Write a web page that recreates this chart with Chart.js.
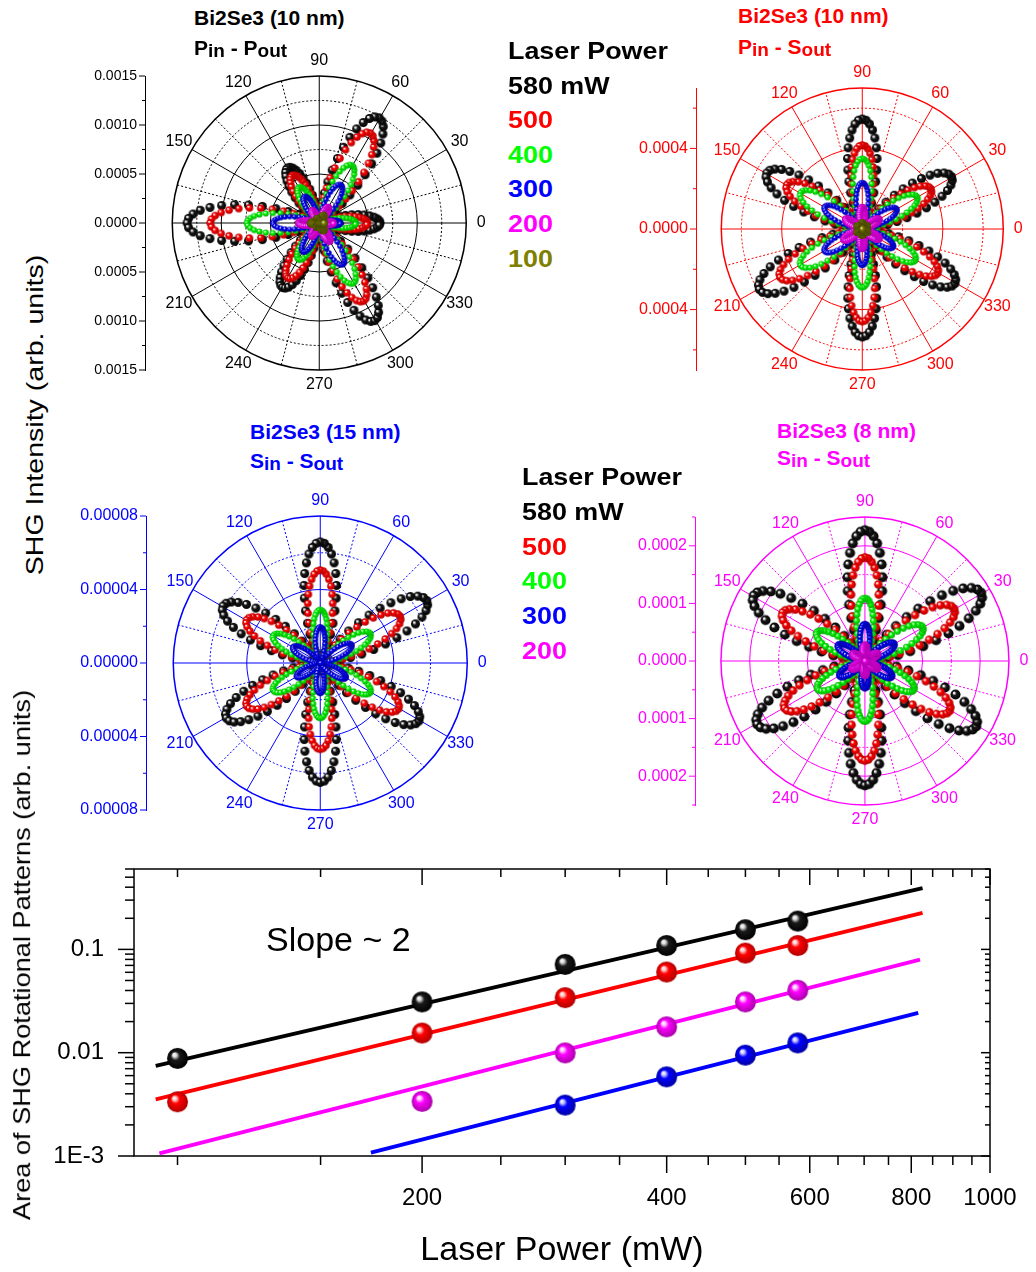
<!DOCTYPE html>
<html>
<head>
<meta charset="utf-8">
<title>SHG rotational patterns vs laser power</title>
<script src="https://cdn.jsdelivr.net/npm/chart.js@4.4.1/dist/chart.umd.min.js"></script>
<style>
  body { margin: 0; background: #fff; }
  #fig { position: relative; width: 1036px; height: 1272px; overflow: hidden; background: #fff;
         font-family: Arial, "Liberation Sans", Helvetica, sans-serif; }
  #fig canvas { position: absolute; }
  .t { position: absolute; white-space: nowrap; line-height: 1; font-weight: bold; font-size: 21px; }
  .t .s { font-size: 19px; position: relative; top: 2px; }
  .lg { position: absolute; white-space: nowrap; line-height: 1; font-weight: bold; font-size: 24px;
        transform: scaleX(1.12); transform-origin: 0 50%; }
  .yt { position: absolute; white-space: nowrap; line-height: 1; font-size: 24px; transform-origin: 50% 50%; }
  .note { position: absolute; white-space: nowrap; line-height: 1; font-size: 34px; }
</style>
</head>
<body>
<div id="fig">
  <canvas id="roseA"></canvas>
  <canvas id="roseB"></canvas>
  <canvas id="roseC"></canvas>
  <canvas id="roseD"></canvas>
  <canvas id="area"></canvas>

  <div class="t" style="left:194px;top:7px;color:#000">Bi2Se3 (10 nm)</div>
  <div class="t" style="left:194px;top:37px;color:#000">P<span class="s">in</span> - P<span class="s">out</span></div>
  <div class="t" style="left:738px;top:5px;color:#f00">Bi2Se3 (10 nm)</div>
  <div class="t" style="left:738px;top:36px;color:#f00">P<span class="s">in</span> - S<span class="s">out</span></div>
  <div class="t" style="left:250px;top:421px;color:#00f">Bi2Se3 (15 nm)</div>
  <div class="t" style="left:250px;top:450px;color:#00f">S<span class="s">in</span> - S<span class="s">out</span></div>
  <div class="t" style="left:777px;top:420px;color:#f0f">Bi2Se3 (8 nm)</div>
  <div class="t" style="left:777px;top:447px;color:#f0f">S<span class="s">in</span> - S<span class="s">out</span></div>

  <div class="yt" id="ytA">SHG Intensity (arb. units)</div>
  <div class="yt" id="ytB">Area of SHG Rotational Patterns (arb. units)</div>
  <div class="note" style="left:266px;top:922px">Slope ~ 2</div>
</div>
<script>
// ---- values ----

// normalised petal profile: fraction of a petal's peak at 0..30 deg from the petal axis
const lobeShape = [1, .997, .989, .976, .957, .933, .905, .872, .835, .794, .75, .703, .655, .604, .552,
  .5, .448, .396, .345, .297, .25, .206, .165, .128, .095, .067, .043, .024, .011, .003, 0];

// Bi2Se3 (10 nm), Pin - Pout : petal peaks per laser power
const pinPoutPowers = [580, 500, 400, 300, 200, 100];
const pinPoutAngles = [0, 60, 120, 180, 240, 300];
const pinPoutPeaks = [
  [0.00063, 0.00124, 0.00065, 0.00137, 0.00076, 0.00115],
  [0.00050, 0.00106, 0.00056, 0.00113, 0.00065, 0.00092],
  [0.00038, 0.00068, 0.00042, 0.00075, 0.00043, 0.00071],
  [0.00022, 0.00045, 0.00031, 0.00048, 0.00034, 0.00049],
  [0.00015, 0.00019, 0.00015, 0.00022, 0.00016, 0.00022],
  [0.00005, 0.00009, 0.00005, 0.00009, 0.00005, 0.00009],
];

// Bi2Se3 (10 nm), Pin - Sout
const pinSoutPowers = [580, 500, 400, 300, 200, 100];
const pinSoutAngles = [30, 90, 150, 210, 270, 330];
const pinSoutPeaks = [
  [0.00052, 0.000546, 0.000556, 0.00060, 0.000536, 0.00054],
  [0.00040, 0.000417, 0.00044, 0.00048, 0.00046, 0.00044],
  [0.00032, 0.00035, 0.00036, 0.00036, 0.00029, 0.00031],
  [0.00020, 0.00023, 0.00022, 0.00022, 0.00018, 0.00018],
  [0.00010, 0.00011, 0.00010, 0.00011, 0.00010, 0.00010],
  [0.00003, 0.00003, 0.00003, 0.00003, 0.00003, 0.00003],
];

// Bi2Se3 (15 nm), Sin - Sout
const sin15Powers = [580, 500, 400, 300];
const sin15Angles = [30, 90, 150, 210, 270, 330];
const sin15Peaks = [
  [0.000068, 0.0000659, 0.000062, 0.000060, 0.000065, 0.000063],
  [0.000051, 0.0000506, 0.000047, 0.000047, 0.000047, 0.000050],
  [0.000032, 0.000029, 0.000030, 0.000030, 0.000030, 0.000032],
  [0.000020, 0.0000196, 0.0000174, 0.000015, 0.0000165, 0.0000163],
];

// Bi2Se3 (8 nm), Sin - Sout
const sin8Powers = [580, 500, 400, 300, 200];
const sin8Angles = [30, 90, 150, 210, 270, 330];
const sin8Peaks = [
  [0.000237, 0.000227, 0.000227, 0.000220, 0.000216, 0.000227],
  [0.000182, 0.000180, 0.000168, 0.000164, 0.000173, 0.000173],
  [0.000118, 0.000109, 0.0000986, 0.000097, 0.000105, 0.000100],
  [0.000060, 0.000064, 0.000055, 0.000052, 0.000047, 0.000055],
  [0.000026, 0.000028, 0.000025, 0.000027, 0.000025, 0.000026],
];

// radial axis labels of the four roses
const pinPoutTicks = [-0.0015, -0.001, -0.0005, 0, 0.0005, 0.001, 0.0015];
const pinSoutTicks = [-0.0004, 0, 0.0004];
const sin15Ticks = [-0.00008, -0.00004, 0, 0.00004, 0.00008];
const sin8Ticks = [-0.0002, -0.0001, 0, 0.0001, 0.0002];
const angleLabels = [0, 30, 60, 90, 120, 150, 210, 240, 270, 300, 330];

// area of the rotational patterns vs laser power (mW)
const areaPinPoutX = [100, 200, 300, 400, 500, 580];
const areaPinPout = [0.0088, 0.031, 0.0716, 0.109, 0.155, 0.188];
const areaPinSoutX = [100, 200, 300, 400, 500, 580];
const areaPinSout = [0.00335, 0.0155, 0.0341, 0.0604, 0.0921, 0.109];
const areaSin8X = [200, 300, 400, 500, 580];
const areaSin8 = [0.00338, 0.00995, 0.0178, 0.031, 0.0402];
const areaSin15X = [300, 400, 500, 580];
const areaSin15 = [0.00311, 0.00584, 0.00946, 0.01244];

// fitted lines (end points)
const fitPinPoutX = [94, 826];
const fitPinPout = [0.00746, 0.391];
const fitPinSoutX = [94, 826];
const fitPinSout = [0.00353, 0.226];
const fitSin8X = [95, 820];
const fitSin8 = [0.00106, 0.0795];
const fitSin15X = [173, 816];
const fitSin15 = [0.00108, 0.0243];

const xTickLabels = [200, 400, 600, 800, 1000];
const xMinorTicks = [100, 150, 250, 300, 350, 450, 500, 550, 650, 700, 750, 850, 900, 950];
const yTickLabels = [0.001, 0.01, 0.1];

// ---- styling ----
Chart.defaults.font.family = 'Arial, "Liberation Sans", Helvetica, sans-serif';
Chart.defaults.color = '#000';

const shades = {
  black:   ['#e0e0e0', '#1a1a1a', '#000000'],
  red:     ['#ffd0d0', '#ff0000', '#b00000'],
  green:   ['#e0ffe0', '#00ff00', '#00a800'],
  blue:    ['#d0d0ff', '#0000ff', '#0000a0'],
  magenta: ['#ffd0ff', '#ff00ff', '#a800a8'],
  olive:   ['#e0e0a0', '#808000', '#4a4a00'],
};
const powerColor = { 580: 'black', 500: 'red', 400: 'green', 300: 'blue', 200: 'magenta', 100: 'olive' };
const textColor = { black: '#000', red: '#ff0000', green: '#00ff00', blue: '#0000ff', magenta: '#ff00ff', olive: '#808000' };
const dotSize = { 580: 4.5, 500: 3.8, 400: 3.1, 300: 2.8, 200: 3, 100: 3.5 };

// little shaded ball used as marker
function sphere(r, pal) {
  const c = document.createElement('canvas');
  const s = Math.ceil(2 * r + 2);
  c.width = c.height = s;
  const g = c.getContext('2d');
  const m = s / 2;
  const grad = g.createRadialGradient(m - r * 0.35, m - r * 0.4, 0, m, m, r);
  grad.addColorStop(0, '#ffffff');
  grad.addColorStop(0.18, pal[0]);
  grad.addColorStop(0.42, pal[1]);
  grad.addColorStop(1, pal[2]);
  g.fillStyle = grad;
  g.beginPath();
  g.arc(m, m, r, 0, Math.PI * 2);
  g.fill();
  return c;
}

// turn the petal peaks of one series into polar points (stored as x/y)
function rosePoints(peaks, petalAngles, step) {
  const pts = [];
  for (let t = 0; t < 360; t += step) {
    let k = 0, best = 999;
    petalAngles.forEach((a, i) => {
      const d = Math.abs(((t - a + 540) % 360) - 180);
      if (d < best) { best = d; k = i; }
    });
    const r = peaks[k] * lobeShape[Math.round(best)];
    const rad = t * Math.PI / 180;
    pts.push({ x: r * Math.cos(rad), y: r * Math.sin(rad) });
  }
  return pts;
}

function roseGrid(p) {
  return {
    id: 'roseGrid',
    beforeDatasetsDraw(chart) {
      const { ctx, chartArea, scales: { x, y } } = chart;
      const cx = x.getPixelForValue(0), cy = y.getPixelForValue(0);
      const R = cy - y.getPixelForValue(p.max);
      const k = R / p.max;
      const isMajor = v => Math.abs(v / p.major - Math.round(v / p.major)) < 1e-6;
      ctx.save();
      ctx.strokeStyle = p.color;
      ctx.lineWidth = 1;
      // circles
      const n = Math.floor(p.max / p.minor + 1e-6);
      for (let i = 1; i <= n; i++) {
        const v = i * p.minor;
        if (Math.abs(v - p.max) < 1e-12) continue;
        ctx.setLineDash(isMajor(v) ? [] : [2, 2]);
        ctx.beginPath();
        ctx.arc(cx, cy, v * k, 0, Math.PI * 2);
        ctx.stroke();
      }
      // spokes
      const r0 = p.major * k;
      for (let a = 0; a < 360; a += 15) {
        const rad = a * Math.PI / 180;
        const solid = a % 30 === 0;
        const rs = solid ? 0 : r0;
        ctx.setLineDash(solid ? [] : [2, 2]);
        ctx.beginPath();
        ctx.moveTo(cx + rs * Math.cos(rad), cy - rs * Math.sin(rad));
        ctx.lineTo(cx + R * Math.cos(rad), cy - R * Math.sin(rad));
        ctx.stroke();
      }
      ctx.setLineDash([]);
      ctx.lineWidth = 1.5;
      ctx.beginPath();
      ctx.arc(cx, cy, R, 0, Math.PI * 2);
      ctx.stroke();
      // angle labels
      ctx.fillStyle = p.color;
      ctx.font = '16px Arial, "Liberation Sans", sans-serif';
      ctx.textAlign = 'center';
      ctx.textBaseline = 'middle';
      angleLabels.forEach(a => {
        const rad = a * Math.PI / 180;
        ctx.fillText(String(a), cx + (R + 15) * Math.cos(rad), cy - (R + 15) * Math.sin(rad));
      });
      // ticks on the left radial axis
      ctx.lineWidth = 1;
      const ax = chartArea.left;
      for (let i = -n; i <= n; i++) {
        const py = y.getPixelForValue(i * p.minor);
        const len = isMajor(i * p.minor) ? 6 : 3;
        ctx.beginPath();
        ctx.moveTo(ax - len, py);
        ctx.lineTo(ax, py);
        ctx.stroke();
      }
      ctx.restore();
    }
  };
}

const panels = [
  { id: 'roseA', color: '#000000', axisX: 145, cx: 322, cy: 223, R: 147, max: 0.0015, major: 0.0005, minor: 0.00025,
    dec: 4, tickFont: 14, step: 2, dot: 1, powers: pinPoutPowers, angles: pinPoutAngles, peaks: pinPoutPeaks, ticks: pinPoutTicks },
  { id: 'roseB', color: '#ff0000', axisX: 696, cx: 865, cy: 229, R: 141, max: 0.0007, major: 0.0004, minor: 0.0002,
    dec: 4, tickFont: 16, step: 2, dot: 1, powers: pinSoutPowers, angles: pinSoutAngles, peaks: pinSoutPeaks, ticks: pinSoutTicks },
  { id: 'roseC', color: '#0000ff', axisX: 146, cx: 323, cy: 663, R: 147, max: 0.00008, major: 0.00004, minor: 0.00002,
    dec: 5, tickFont: 16, step: 2, dot: 1, powers: sin15Powers, angles: sin15Angles, peaks: sin15Peaks, ticks: sin15Ticks },
  { id: 'roseD', color: '#ff00ff', axisX: 695, cx: 868, cy: 661, R: 144, max: 0.00025, major: 0.0001, minor: 0.00005,
    dec: 4, tickFont: 16, step: 2, dot: 1.12, powers: sin8Powers, angles: sin8Angles, peaks: sin8Peaks, ticks: sin8Ticks },
];

panels.forEach(p => {
  const el = document.getElementById(p.id);
  const left = p.axisX - 90, top = p.cy - p.R - 30;
  const right = Math.min(1036, p.cx + p.R + 30);
  el.width = right - left;
  el.height = 2 * p.R + 60;
  el.style.left = left + 'px';
  el.style.top = top + 'px';
  const unit = p.max / p.R;
  const n = p.powers.length;

  const datasets = p.powers.map((pw, i) => ({
    label: pw + ' mW',
    data: rosePoints(p.peaks[i], p.angles, p.step),
    pointStyle: sphere(dotSize[pw] * p.dot, shades[powerColor[pw]]),
    pointRadius: dotSize[pw] * p.dot,
    order: n - i,
  }));

  new Chart(el, {
    type: 'scatter',
    data: { datasets },
    options: {
      responsive: false,
      animation: false,
      events: [],
      layout: { padding: { left: 0, right: 0, top: 30, bottom: 30 } },
      plugins: { legend: { display: false }, tooltip: { enabled: false } },
      scales: {
        x: { type: 'linear', display: false, min: -(p.cx - p.axisX) * unit, max: (right - p.cx) * unit },
        y: {
          type: 'linear', min: -p.max, max: p.max,
          afterFit: s => { s.width = 90; s.paddingTop = 0; s.paddingBottom = 0; },
          afterBuildTicks: s => { s.ticks = p.ticks.map(v => ({ value: v })); },
          ticks: { color: p.color, font: { size: p.tickFont }, padding: 8,
                   callback: v => Math.abs(v).toFixed(p.dec) },
          grid: { display: false, drawTicks: false },
          border: { display: true, color: p.color, width: 1 },
        },
      },
    },
    plugins: [roseGrid(p)],
  });
});

// legends
function legend(powers, left, top, gap) {
  const fig = document.getElementById('fig');
  const lines = ['Laser Power'].concat(powers.map((pw, i) => i === 0 ? pw + ' mW' : String(pw)));
  lines.forEach((txt, i) => {
    const d = document.createElement('div');
    d.className = 'lg';
    d.textContent = txt;
    d.style.left = left + 'px';
    d.style.top = (top + i * gap) + 'px';
    d.style.color = i < 2 ? '#000' : textColor[powerColor[powers[i - 1]]];
    fig.appendChild(d);
  });
}
legend(pinPoutPowers, 508, 39, 34.6);
legend(sin8Powers, 522, 465, 34.8);

// rotated axis titles
function placeRotated(id, cx, cy, len) {
  const el = document.getElementById(id);
  const w = el.offsetWidth, h = el.offsetHeight;
  el.style.left = (cx - w / 2) + 'px';
  el.style.top = (cy - h / 2) + 'px';
  el.style.transform = `rotate(-90deg) scaleX(${len / w})`;
}
placeRotated('ytA', 34, 415, 320);
placeRotated('ytB', 22, 955, 530);

// ---- area vs power (log-log) ----
const frame = {
  id: 'frame',
  beforeDatasetsDraw(chart) {
    const { ctx, chartArea: a, scales: { x, y } } = chart;
    ctx.save();
    ctx.strokeStyle = '#000';
    ctx.lineWidth = 1.5;
    ctx.strokeRect(a.left, a.top, a.right - a.left, a.bottom - a.top);
    const tick = (x1, y1, x2, y2) => { ctx.beginPath(); ctx.moveTo(x1, y1); ctx.lineTo(x2, y2); ctx.stroke(); };
    xTickLabels.forEach(v => {
      const px = x.getPixelForValue(v);
      tick(px, a.bottom, px, a.bottom + 17);
      tick(px, a.top, px, a.top + 16);
    });
    xMinorTicks.forEach(v => {
      const px = x.getPixelForValue(v);
      tick(px, a.bottom, px, a.bottom + 9);
      tick(px, a.top, px, a.top + 8);
    });
    yTickLabels.forEach(v => {
      const py = y.getPixelForValue(v);
      tick(a.left - 16, py, a.left, py);
      tick(a.right - 9, py, a.right, py);
    });
    yTickLabels.forEach(d => {
      for (let m = 2; m <= 9; m++) {
        const v = d * m;
        if (v > y.max * 1.0001) break;
        const py = y.getPixelForValue(v);
        tick(a.left - 9, py, a.left, py);
        tick(a.right - 5, py, a.right, py);
      }
    });
    ctx.restore();
  }
};

const areaEl = document.getElementById('area');
areaEl.width = 1036;
areaEl.height = 432;
areaEl.style.left = '0px';
areaEl.style.top = '840px';

const pts = (xs, ys) => xs.map((x, i) => ({ x, y: ys[i] }));
const fitLine = (xs, ys, c) => ({
  type: 'line', data: pts(xs, ys), borderColor: textColor[c], borderWidth: 3.8,
  pointRadius: 0, showLine: true, fill: false, order: 2,
});
const ballSet = (xs, ys, c) => ({
  data: pts(xs, ys), pointStyle: sphere(10.5, shades[c]), pointRadius: 10.5, order: 1,
});
const noPad = s => { s.paddingTop = 0; s.paddingBottom = 0; s.paddingLeft = 0; s.paddingRight = 0; };

new Chart(areaEl, {
  type: 'scatter',
  data: {
    datasets: [
      fitLine(fitPinPoutX, fitPinPout, 'black'),
      fitLine(fitPinSoutX, fitPinSout, 'red'),
      fitLine(fitSin8X, fitSin8, 'magenta'),
      fitLine(fitSin15X, fitSin15, 'blue'),
      ballSet(areaPinPoutX, areaPinPout, 'black'),
      ballSet(areaPinSoutX, areaPinSout, 'red'),
      ballSet(areaSin8X, areaSin8, 'magenta'),
      ballSet(areaSin15X, areaSin15, 'blue'),
    ],
  },
  options: {
    responsive: false,
    animation: false,
    events: [],
    layout: { padding: { left: 0, top: 29, right: 46, bottom: 0 } },
    plugins: { legend: { display: false }, tooltip: { enabled: false } },
    scales: {
      x: {
        type: 'logarithmic', min: 88.4, max: 1000,
        afterFit: s => { s.height = 116; noPad(s); },
        afterBuildTicks: s => { s.ticks = xTickLabels.map(v => ({ value: v })); },
        ticks: { font: { size: 24 }, color: '#000', padding: 28, maxRotation: 0, autoSkip: false,
                 callback: v => String(v) },
        grid: { display: false, drawTicks: false },
        border: { display: false },
        title: { display: true, text: 'Laser Power (mW)', color: '#000', font: { size: 34 },
                 padding: { top: 0, bottom: 1 } },
      },
      y: {
        type: 'logarithmic', min: 0.001, max: 0.6,
        afterFit: s => { s.width = 134; noPad(s); },
        afterBuildTicks: s => { s.ticks = yTickLabels.map(v => ({ value: v })); },
        ticks: { font: { size: 24 }, color: '#000', padding: 30, autoSkip: false,
                 callback: v => (v === 0.001 ? '1E-3' : String(v)) },
        grid: { display: false, drawTicks: false },
        border: { display: false },
      },
    },
  },
  plugins: [frame],
});
</script>
</body>
</html>
